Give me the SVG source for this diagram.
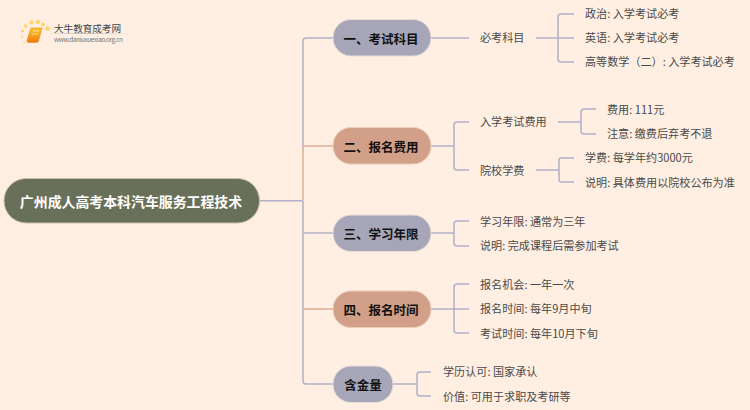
<svg xmlns="http://www.w3.org/2000/svg" width="750" height="410" viewBox="0 0 750 410">
<style>
text{font-family:"Noto Sans CJK SC","Liberation Sans",sans-serif}
.l{font-size:11.100px;fill:#4a4a4a;dominant-baseline:central}
.b{font-size:12.500px;font-weight:700;fill:#111;text-anchor:middle;dominant-baseline:central}
.c path,.c line{fill:none;stroke:#B0B0C8;stroke-width:1.5}
.c .t{stroke:#DCAE94}
.g{fill:#A6A6B8;stroke:#E9DDD6}
.o{fill:#D2A088;stroke:#EBCDB8}
</style>
<defs>
<linearGradient id="bk" x1="0" y1="0" x2="0" y2="1"><stop offset="0" stop-color="#FFC42E"/><stop offset="1" stop-color="#EE7C0C"/></linearGradient>
<linearGradient id="ul" x1="0" y1="0" x2="1" y2="0"><stop offset="0" stop-color="#bbb" stop-opacity=".2"/><stop offset=".4" stop-color="#bbb"/><stop offset="1" stop-color="#bbb" stop-opacity="0"/></linearGradient>
</defs>
<rect width="750" height="410" fill="#FFEFE2"/>
<g id="logo">
<g fill="#FFD56A"><circle cx="47.500" cy="28.500" r="2.300"/><circle cx="25.500" cy="26" r="1.800"/><circle cx="31.500" cy="22.500" r="2"/><circle cx="38" cy="22" r="2.200"/><circle cx="43" cy="24.500" r="2"/><circle cx="22.500" cy="31" r="1.500"/><circle cx="22" cy="37" r="1.300" opacity=".7"/><circle cx="24" cy="42.500" r="1.200" opacity=".6"/></g>
<path d="M31 28h11l-3.500 13q-.5 1.500-2 1.500H28.500q-2 0-1.500-2z" fill="url(#bk)" stroke="#E88A1A" stroke-width=".6"/>
<path d="M33 31h6M32.200 34h6" stroke="#FFE9A8" stroke-width=".9"/>
<rect x="50" y="33" width="85" height="1" fill="url(#ul)"/>
<text x="54" y="27.500" font-size="9.600" fill="#444" dominant-baseline="central" textLength="67">大牛教育成考网</text>
<text x="54" y="39" font-family="Liberation Sans" font-size="6.500" fill="#777" dominant-baseline="central" textLength="69">www.daniuxuexiao.org.cn</text>
</g>
<g id="connectors" class="c">
<line x1="260" y1="200.700" x2="303" y2="200.700"/>
<path d="M333 38H306Q303 38 303 41V146"/>
<path class="t" d="M333 146H304Q303 146 303 147V200"/>
<path class="t" d="M304 309H333"/>
<path d="M303 200.700V381Q303 384 306 384H333"/>
<path d="M304 233H333"/>
<line x1="431" y1="38" x2="469" y2="38"/>
<line x1="431" y1="146" x2="454" y2="146"/>
<path d="M469 122H457Q454 122 454 125V167Q454 170 457 170H469"/>
<line x1="536" y1="38" x2="574" y2="38"/>
<path d="M574 14H561Q558 14 558 17V59Q558 62 561 62H574"/>
<line x1="558" y1="122" x2="581" y2="122"/>
<path d="M596 109H584Q581 109 581 112V131Q581 134 584 134H596"/>
<line x1="536" y1="170" x2="559" y2="170"/>
<path d="M574 158H561Q559 158 559 161V179Q559 182 561 182H574"/>
<line x1="431" y1="233" x2="454" y2="233"/>
<path d="M469 221H457Q454 221 454 224V243Q454 246 457 246H469"/>
<line x1="431" y1="309" x2="469" y2="309"/>
<path d="M469 284H457Q454 284 454 287V330Q454 333 457 333H469"/>
<line x1="393" y1="384" x2="417" y2="384"/>
<path d="M431 372H420Q417 372 417 375V393Q417 396 420 396H431"/>
</g>
<g id="root"><rect x="4" y="178.500" width="255.500" height="44.500" rx="22" fill="#69705A" stroke="#C9BFA8"/><text x="131" y="200.500" font-size="13.900" font-weight="700" fill="#fff" text-anchor="middle" dominant-baseline="central">广州成人高考本科汽车服务工程技术</text></g>
<g id="n1"><rect class="g" x="333" y="19.500" width="98" height="36.500" rx="18"/><text class="b" x="381" y="38">一、考试科目</text></g>
<g id="n2"><rect class="o" x="333" y="127.500" width="98" height="36.500" rx="18"/><text class="b" x="381" y="146">二、报名费用</text></g>
<g id="n3"><rect class="g" x="333" y="215" width="98" height="36.500" rx="18"/><text class="b" x="381" y="233">三、学习年限</text></g>
<g id="n4"><rect class="o" x="333" y="291" width="98" height="36.500" rx="18"/><text class="b" x="381" y="309">四、报名时间</text></g>
<g id="n5"><rect class="g" x="333" y="366" width="60" height="36.500" rx="18"/><text class="b" x="363" y="384">含金量</text></g>
<g id="l11"><text class="l" x="480" y="37">必考科目</text></g>
<g id="l111"><text class="l" x="585" y="13">政治: 入学考试必考</text></g>
<g id="l112"><text class="l" x="585" y="37">英语: 入学考试必考</text></g>
<g id="l113"><text class="l" x="585" y="61">高等数学（二）: 入学考试必考</text></g>
<g id="l21"><text class="l" x="480" y="121">入学考试费用</text></g>
<g id="l211"><text class="l" x="607" y="108.500">费用: 111元</text></g>
<g id="l212"><text class="l" x="607" y="133">注意: 缴费后弃考不退</text></g>
<g id="l22"><text class="l" x="480" y="169.500">院校学费</text></g>
<g id="l221"><text class="l" x="585" y="157">学费: 每学年约3000元</text></g>
<g id="l222"><text class="l" x="585" y="181.500">说明: 具体费用以院校公布为准</text></g>
<g id="l31"><text class="l" x="480" y="220.500">学习年限: 通常为三年</text></g>
<g id="l32"><text class="l" x="480" y="245">说明: 完成课程后需参加考试</text></g>
<g id="l41"><text class="l" x="480" y="283.500">报名机会: 一年一次</text></g>
<g id="l42"><text class="l" x="480" y="308">报名时间: 每年9月中旬</text></g>
<g id="l43"><text class="l" x="480" y="332.500">考试时间: 每年10月下旬</text></g>
<g id="l51"><text class="l" x="443" y="371">学历认可: 国家承认</text></g>
<g id="l52"><text class="l" x="443" y="395.500">价值: 可用于求职及考研等</text></g>
</svg>
